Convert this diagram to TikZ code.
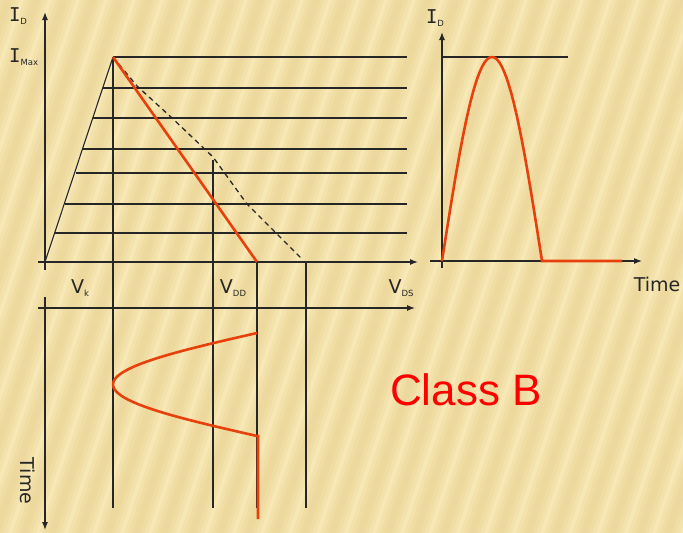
\documentclass[tikz,border=0pt]{standalone}
\usepackage{fontspec}
\setmainfont{DejaVu Sans}
\newfontfamily\classfont{Liberation Sans}
\newfontfamily\serifI{DejaVu Sans Mono}
\usetikzlibrary{arrows.meta, positioning}

\definecolor{paper}{HTML}{F7E8B6}
\definecolor{stripe}{HTML}{E4C97E}
\definecolor{curvered}{HTML}{E8400C}
\definecolor{inkline}{HTML}{262626}

\newcommand{\lowidx}[1]{\raisebox{-3pt}{\fontsize{8.5}{9}\selectfont #1}}
\newcommand{\curI}{{\serifI I}}

\tikzset{
  axis/.style={-{Latex[length=8pt,width=6pt]}, line width=1.1pt, draw=inkline},
  gridline/.style={line width=1.1pt, draw=inkline},
  loadline/.style={line width=2.6pt, draw=curvered},
  lbl/.style={font=\fontsize{19}{20}\selectfont, text=inkline, inner sep=0pt},
}

\begin{document}
\begin{tikzpicture}[x=1pt, y=-1pt]
    \useasboundingbox (0,0) rectangle (683,533);
    \fill[paper] (0,0) rectangle (683,533);
    \foreach \s in {-200,-172,...,700}
        \foreach \w in {24,16,8}
            \fill[stripe, opacity=0.17] (\s-\w/2,533) -- (\s+\w/2,533) -- (\s+180+\w/2,0) -- (\s+180-\w/2,0) -- cycle;

    % output characteristics
    \coordinate (O) at (45,262);
    \coordinate (knee) at (113,57);
    \coordinate (yT) at (45,12);
    \coordinate (yB) at (45,270);
    \coordinate (xL) at (38,262);
    \coordinate (xR) at (418,262);
    \draw[axis] (yB) -- (yT);
    \draw[axis] (xL) -- (xR);
    \foreach \y/\xl in {57/113, 88/103, 118/93, 149/83, 173/76, 204/65, 233/55}
        \draw[gridline] (\xl,\y) -- (407,\y);
    \draw[gridline] (O) -- (knee);

    \coordinate (vk) at (113,508);
    \coordinate (dd) at (213,160);
    \coordinate (ddB) at (213,508);
    \coordinate (q) at (257,262);
    \coordinate (qB) at (257,508);
    \coordinate (r) at (306,262);
    \coordinate (rB) at (306,508);
    \draw[gridline] (knee) -- (vk);
    \draw[gridline] (dd) -- (ddB);
    \draw[gridline] (q) -- (qB);
    \draw[gridline] (r) -- (rB);

    \draw[inkline, line width=1.3pt, dash pattern=on 5pt off 4pt]
        (knee) -- (137,86) -- (172,118) -- (213,157) -- (247,204) -- (303,260);
    \draw[loadline] (knee) -- (q);

    \node[lbl] (id) at (18,16) {\curI\lowidx{D}};
    \node[lbl, anchor=west] (imax) at (9,57) {\curI\lowidx{Max}};
    \node[lbl] (vklbl) at (80,288) {V\lowidx{k}};
    \node[lbl] (vddlbl) at (233,288) {V\lowidx{DD}};
    \node[lbl] (vdslbl) at (401,288) {V\lowidx{DS}};

    % input drive against time
    \coordinate (tL) at (38,308);
    \coordinate (tR) at (415,308);
    \coordinate (tT) at (45,297);
    \coordinate (tB) at (45,530);
    \draw[axis] (tL) -- (tR);
    \draw[axis] (tT) -- (tB);
    \node[lbl, rotate=-90] (tlbl) at (28,481) {Time};

    \draw[loadline] plot[domain=333:436, samples=60] ({257-144*sin(1.7476*(\x-333))}, \x)
        -- (258,436) -- (258,519);

    % drain current against time
    \coordinate (iT) at (442,32);
    \coordinate (iB) at (442,268);
    \coordinate (hL) at (430,261);
    \coordinate (hR) at (642,261);
    \draw[axis] (iB) -- (iT);
    \draw[axis] (hL) -- (hR);
    \draw[gridline] (442,57) -- (568,57);
    \draw[loadline] plot[domain=442:542, samples=60] (\x, {261-204*sin(1.8*(\x-442))})
        -- (622,261);
    \node[lbl] (id2) at (435,18) {\curI\lowidx{D}};
    \node[lbl] (time2) at (657,284) {Time};

    \node[text=red, font=\classfont\fontsize{44}{44}\selectfont, inner sep=0pt] (cls) at (466,390) {Class B};
\end{tikzpicture}
\end{document}
